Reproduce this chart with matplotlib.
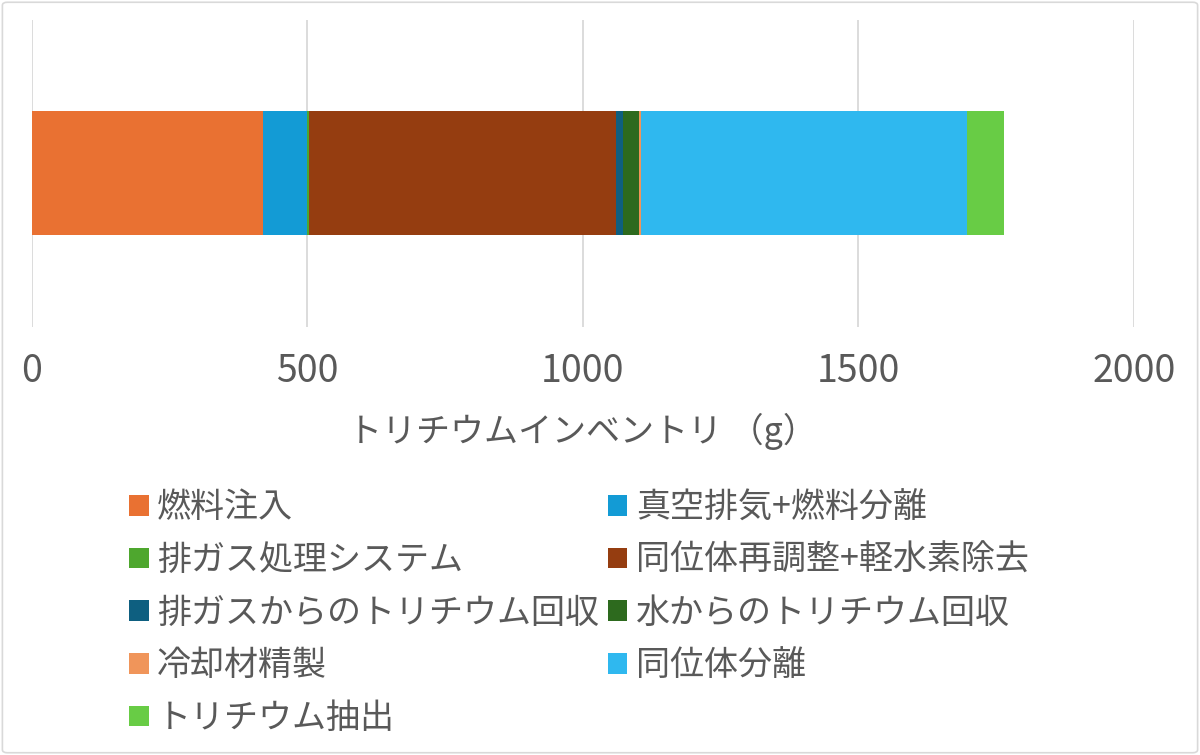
import matplotlib
matplotlib.use("Agg")
import matplotlib.pyplot as plt
from matplotlib.patches import FancyBboxPatch, Patch

plt.rcParams['font.family'] = ['Noto Sans CJK JP', 'DejaVu Sans']

categories = ["燃料注入", "真空排気+燃料分離", "排ガス処理システム", "同位体再調整+軽水素除去",
              "排ガスからのトリチウム回収", "水からのトリチウム回収", "冷却材精製", "同位体分離",
              "トリチウム抽出"]
values = [420, 79, 5, 557, 12, 30, 3, 592, 67]
colors = ["#E97132", "#139BD5", "#4EA72E", "#953D10", "#0E5F80", "#2D6A1E",
          "#F0955A", "#2FB8EF", "#68CC45"]
xticks = [0, 500, 1000, 1500, 2000]
xlabel = "トリチウムインベントリ （g）"

fig = plt.figure(figsize=(12, 7.55), dpi=100)
ax = fig.add_axes([0.0264, 0.567, 0.9184, 0.4065])

left = 0
handles = []
for cat, v, c in zip(categories, values, colors):
    ax.barh(0, v, left=left, height=0.404, color=c, edgecolor='none', zorder=3)
    left += v
    handles.append(Patch(facecolor=c, edgecolor='none', label=cat))

ax.set_xlim(0, 2000)
ax.set_ylim(-0.5, 0.5)
ax.set_xticks(xticks)
ax.set_xticklabels([str(t) for t in xticks])
ax.set_yticks([])
ax.grid(axis='x', color='#D9D9D9', linewidth=1.3, zorder=0)
for s in ax.spines.values():
    s.set_visible(False)
ax.tick_params(axis='x', length=0, pad=18, labelsize=27, labelcolor='#595959')
ax.set_xlabel(xlabel, fontsize=24.5, color='#595959', labelpad=16)

order = [0, 2, 4, 6, 8, 1, 3, 5, 7]
leg = fig.legend([handles[i] for i in order], [categories[i] for i in order],
                 ncol=2, loc='upper left', bbox_to_anchor=(0.1075, 0.3505),
                 frameon=False, fontsize=24.5, handlelength=0.58, handleheight=0.55,
                 handletextpad=0.25, columnspacing=0.25, labelspacing=0.52,
                 borderpad=0, borderaxespad=0)
for t in leg.get_texts():
    t.set_color('#595959')

border = FancyBboxPatch((0.002, 0.003), 0.996, 0.994, boxstyle="round,pad=0,rounding_size=0.004",
                        transform=fig.transFigure, facecolor='none', edgecolor='#D9D9D9',
                        linewidth=1.2)
fig.patches.append(border)

fig.savefig("out.png", dpi=100, facecolor='white')
